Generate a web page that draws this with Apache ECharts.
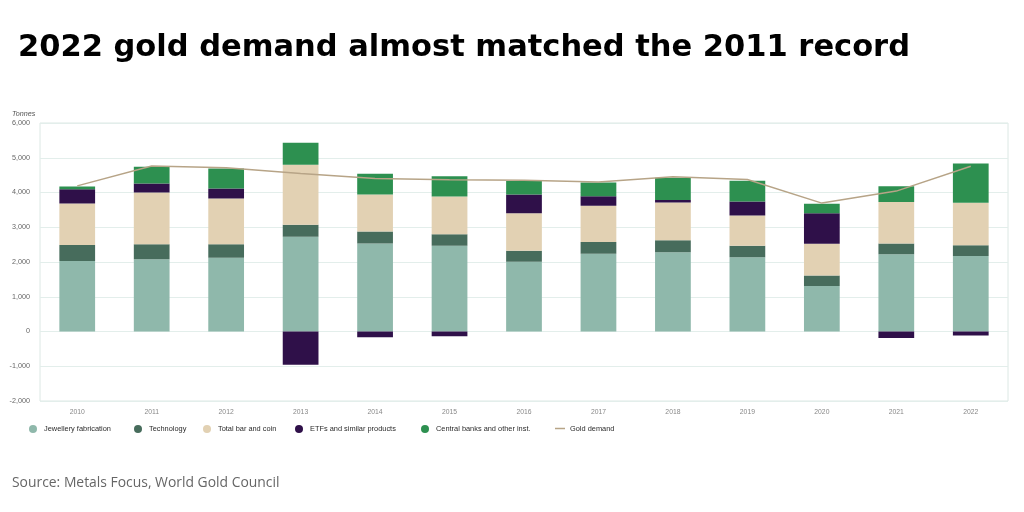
<!DOCTYPE html>
<html>
<head>
<meta charset="utf-8">
<script src="https://cdn.jsdelivr.net/npm/echarts@6/dist/echarts.min.js"></script>
<style>html,body{margin:0;padding:0;background:#fff;}#c{width:1024px;height:512px;}</style>
</head>
<body>
<div id="c"></div>
<script>
const years = ['2010','2011','2012','2013','2014','2015','2016','2017','2018','2019','2020','2021','2022'];
const jewellery = [2030, 2080, 2125, 2730, 2530, 2470, 2010, 2240, 2280, 2135, 1310, 2220, 2175];
const technology = [460, 430, 385, 345, 345, 325, 315, 335, 345, 335, 300, 315, 305];
const barCoin = [1195, 1490, 1320, 1720, 1070, 1090, 1080, 1045, 1090, 870, 915, 1195, 1225];
const etfs = [410, 260, 285, -955, -165, -135, 535, 270, 70, 400, 880, -190, -115];
const centralBanks = [80, 480, 575, 640, 595, 585, 390, 395, 640, 595, 270, 450, 1130];
const goldDemand = [4190, 4765, 4710, 4550, 4400, 4370, 4355, 4305, 4450, 4375, 3695, 4040, 4755];
const yTicks = { min: -2000, max: 6000, interval: 1000 };

const colors = {
  jewellery: '#8fb8ab',
  technology: '#476c5c',
  barCoin: '#e2d1b3',
  etfs: '#2f1049',
  cb: '#2d9050',
  line: '#b7a487'
};

const chart = echarts.init(document.getElementById('c'), null, { renderer: 'canvas' });
const legendText = { fontFamily: 'Liberation Sans', fontSize: 7.4, color: '#2a2a2a' };
function lg(name, left, icon, w, h) {
  return {
    data: [{ name: name, icon: icon }],
    left: left, top: 425, itemWidth: w, itemHeight: h, itemGap: 0,
    textStyle: legendText, padding: 0, selectedMode: false
  };
}
function barSeries(name, data, color) {
  return {
    name: name, type: 'bar', stack: 'total', data: data, barWidth: '48%',
    itemStyle: { color: color }, emphasis: { disabled: true }
  };
}
const option = {
  animation: false,
  backgroundColor: '#fff',
  title: [
    { text: '2022 gold demand almost matched the 2011 record', left: 18, top: 33, padding: 0,
      textStyle: { fontFamily: 'DejaVu Sans', fontWeight: 'bold', fontSize: 30.5, color: '#000' } },
    { text: 'Source: Metals Focus, World Gold Council', left: 12, top: 476, padding: 0,
      textStyle: { fontFamily: 'Open Sans', fontWeight: 'normal', fontSize: 13.9, color: '#666' } },
    { text: 'Tonnes', left: 12, top: 110, padding: 0,
      textStyle: { fontFamily: 'Liberation Sans', fontStyle: 'italic', fontWeight: 'normal', fontSize: 7.2, color: '#555' } }
  ],
  legend: [
    lg('Jewellery fabrication', 29, 'circle', 12, 8),
    lg('Technology', 134, 'circle', 12, 8),
    lg('Total bar and coin', 203, 'circle', 12, 8),
    lg('ETFs and similar products', 295, 'circle', 12, 8),
    lg('Central banks and other inst.', 421, 'circle', 12, 8),
    lg('Gold demand', 555, 'rect', 10, 1.5)
  ],
  grid: { left: 40, right: 16, top: 123, bottom: 111, show: true, borderColor: '#dce8e4', borderWidth: 1 },
  xAxis: {
    type: 'category', data: years,
    axisLine: { show: false }, axisTick: { show: false },
    axisLabel: { fontFamily: 'Liberation Sans', fontSize: 6.8, color: '#888', margin: 8 }
  },
  yAxis: {
    type: 'value', min: yTicks.min, max: yTicks.max, interval: yTicks.interval,
    axisLine: { show: false }, axisTick: { show: false },
    splitLine: { lineStyle: { color: '#e3eeeb', width: 1 } },
    axisLabel: { fontFamily: 'Liberation Sans', fontSize: 7.2, color: '#666', margin: 10,
      formatter: v => v.toLocaleString('en-US') }
  },
  series: [
    barSeries('Jewellery fabrication', jewellery, colors.jewellery),
    barSeries('Technology', technology, colors.technology),
    barSeries('Total bar and coin', barCoin, colors.barCoin),
    barSeries('ETFs and similar products', etfs, colors.etfs),
    barSeries('Central banks and other inst.', centralBanks, colors.cb),
    { name: 'Gold demand', type: 'line', data: goldDemand, showSymbol: false, symbol: 'none',
      lineStyle: { color: colors.line, width: 1.5 }, itemStyle: { color: colors.line }, z: 5,
      emphasis: { disabled: true } }
  ]
};
chart.setOption(option);
</script>
</body>
</html>
